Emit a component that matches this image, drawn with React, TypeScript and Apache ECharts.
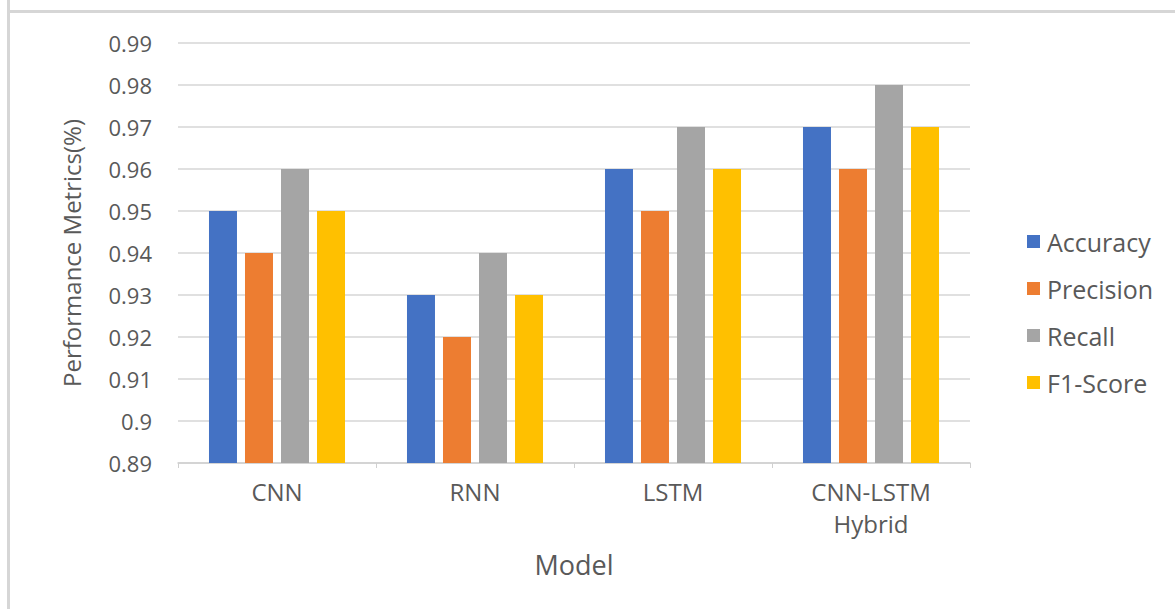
import React, { useEffect, useRef } from "react";
import * as echarts from "echarts";

const categories = ["CNN", "RNN", "LSTM", "CNN-LSTM\nHybrid"];
const accuracy = [0.95, 0.93, 0.96, 0.97];
const precision = [0.94, 0.92, 0.95, 0.96];
const recall = [0.96, 0.94, 0.97, 0.98];
const f1Score = [0.95, 0.93, 0.96, 0.97];
const seriesNames = ["Accuracy", "Precision", "Recall", "F1-Score"];
const colors = ["#4472C4", "#ED7D31", "#A5A5A5", "#FFC000"];

export default function App() {
  const ref = useRef<HTMLDivElement>(null);
  useEffect(() => {
    if (!ref.current) return;
    const chart = echarts.init(ref.current, null, { renderer: "svg" });
    const font = "'Open Sans', 'Noto Sans', sans-serif";
    const data = [accuracy, precision, recall, f1Score];
    chart.setOption({
      animation: false,
      backgroundColor: "#fff",
      textStyle: { fontFamily: font },
      graphic: [
        { type: "line", shape: { x1: 8.5, y1: 0, x2: 8.5, y2: 609 }, style: { stroke: "#d6d6d6", lineWidth: 3 } },
        { type: "line", shape: { x1: 8, y1: 11.5, x2: 1175, y2: 11.5 }, style: { stroke: "#d6d6d6", lineWidth: 3 } },
      ],
      grid: { left: 178, top: 43, width: 792, height: 420, containLabel: false },
      legend: {
        orient: "vertical",
        left: 1022,
        top: 224,
        itemWidth: 13,
        itemHeight: 13,
        itemGap: 22,
        icon: "rect",
        textStyle: { fontSize: 25, lineHeight: 24, color: "#595959", fontFamily: font, padding: [0, 0, 0, 2] },
        data: seriesNames,
      },
      xAxis: {
        type: "category",
        data: categories,
        name: "Model",
        nameLocation: "middle",
        nameGap: 88,
        nameTextStyle: { fontSize: 27, color: "#595959", fontFamily: font },
        axisLine: { lineStyle: { color: "#d0d0d0", width: 1.5 } },
        axisTick: { show: true, length: 5, lineStyle: { color: "#d0d0d0" } },
        axisLabel: { fontSize: 24, color: "#595959", margin: 12, lineHeight: 32, fontFamily: font },
      },
      yAxis: {
        type: "value",
        min: 0.89,
        max: 0.99,
        interval: 0.01,
        name: "Performance Metrics(%)",
        nameLocation: "middle",
        nameGap: 95,
        nameTextStyle: { fontSize: 24, color: "#595959", fontFamily: font },
        axisLine: { show: false },
        axisTick: { show: false },
        axisLabel: {
          fontSize: 22,
          color: "#595959",
          margin: 26,
          fontFamily: font,
          formatter: (v: number) => String(parseFloat(v.toFixed(2))),
        },
        splitLine: { lineStyle: { color: "#d6d6d6", width: 1.5 } },
      },
      series: seriesNames.map((name, i) => ({
        name,
        type: "bar",
        data: data[i],
        barWidth: 28,
        barGap: "28.6%",
        itemStyle: { color: colors[i] },
      })),
    });
    return () => chart.dispose();
  }, []);
  return <div ref={ref} style={{ position: "fixed", left: 0, top: 0, width: 1175, height: 609 }} />;
}
